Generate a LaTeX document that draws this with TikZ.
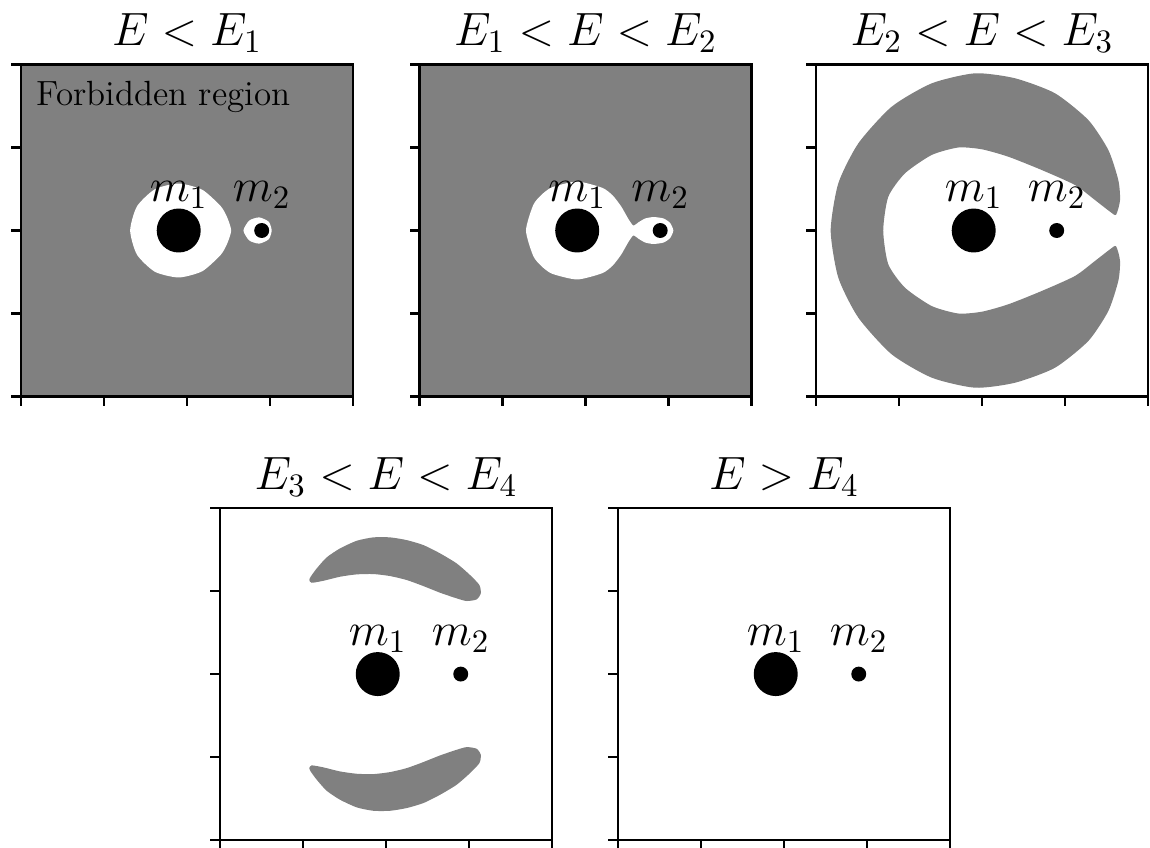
\RequirePackage{fix-cm}
\documentclass[tikz,border=0pt]{standalone}
\usepackage{amsmath}
\usepackage{tikz}
\usetikzlibrary{calc}

\begin{document}
\begin{tikzpicture}[>=stealth,
		interdit/.style={fill=gray},
		courbe/.style={smooth cycle,tension=0.4},
		cadre/.style={line width=0.75pt},
		etiquette/.style={font=\fontsize{16}{19}\selectfont,anchor=base,inner sep=0pt}]
	\useasboundingbox (0,0) rectangle (13.855,10.205);
	% E < E1
	\begin{scope}[shift={(2.253,7.428)}]
		\fill[interdit] (-2,-2) rectangle (2,2);
		\fill[white,shift={(-0.1,0)}] plot[courbe] coordinates {(0:0.632) (15:0.605) (30:0.585) (60:0.567) (90:0.566) (120:0.574) (150:0.581) (180:0.585) (210:0.581) (240:0.574) (270:0.566) (300:0.567) (330:0.585) (345:0.605)};
		\fill[white] plot[courbe] coordinates {(1.02,0) (0.985,0.105) (0.87,0.158) (0.75,0.12) (0.68,0) (0.75,-0.12) (0.87,-0.158) (0.985,-0.105)};
		\node[anchor=base west,inner sep=0pt,font=\fontsize{12}{14}\selectfont] (zone) at (-1.82,1.51) {Forbidden region};
	\end{scope}
	% E1 < E < E2
	\begin{scope}[shift={(7.054,7.428)}]
		\fill[interdit] (-2,-2) rectangle (2,2);
		\fill[white] plot[courbe] coordinates {(-0.717,0) (-0.63,0.306) (-0.53,0.43) (-0.4,0.522) (-0.1,0.59) (0.2,0.515) (0.325,0.425) (0.43,0.29) (0.516,0.14) (0.576,0.06) (0.64,0.1) (0.72,0.145) (0.82,0.162) (0.94,0.145) (1.02,0.09) (1.058,0) (1.02,-0.09) (0.94,-0.145) (0.82,-0.162) (0.72,-0.145) (0.64,-0.1) (0.576,-0.06) (0.516,-0.14) (0.43,-0.29) (0.325,-0.425) (0.2,-0.515) (-0.1,-0.59) (-0.4,-0.522) (-0.53,-0.43) (-0.63,-0.306)};
	\end{scope}
	% E2 < E < E3
	\begin{scope}[shift={(11.831,7.428)}]
		\fill[interdit] plot[courbe] coordinates {(1.542,0.227) (1.361,0.367) (1.12,0.548) (0.719,0.729) (0.317,0.889) (0,0.978) (-0.285,1.0) (-0.606,0.91) (-0.928,0.689) (-1.129,0.407) (-1.19,0) (-1.129,-0.407) (-0.928,-0.689) (-0.606,-0.91) (-0.285,-1.0) (0,-0.978) (0.317,-0.889) (0.719,-0.729) (1.12,-0.548) (1.361,-0.367) (1.542,-0.227) (1.615,-0.19) (1.663,-0.367) (1.642,-0.608) (1.522,-0.97) (1.281,-1.331) (0.88,-1.653) (0.398,-1.834) (-0.084,-1.894) (-0.606,-1.773) (-1.088,-1.492) (-1.49,-1.05) (-1.731,-0.569) (-1.823,0) (-1.731,0.569) (-1.49,1.05) (-1.088,1.492) (-0.606,1.773) (-0.084,1.894) (0.398,1.834) (0.88,1.653) (1.281,1.331) (1.522,0.97) (1.642,0.608) (1.663,0.367) (1.615,0.19)};
	\end{scope}
	% E3 < E < E4
	\begin{scope}[shift={(4.651,2.084)}]
		\foreach \s in {1,-1}
		\fill[interdit,yscale=\s] plot[courbe] coordinates {(-0.924,1.133) (-0.896,1.1) (-0.755,1.124) (-0.554,1.173) (-0.353,1.201) (-0.153,1.205) (0.048,1.181) (0.249,1.133) (0.45,1.06) (0.651,0.98) (0.851,0.912) (0.972,0.88) (1.092,0.9) (1.141,0.972) (1.125,1.072) (1.012,1.193) (0.851,1.333) (0.651,1.454) (0.45,1.554) (0.249,1.614) (0.048,1.647) (-0.153,1.647) (-0.353,1.606) (-0.554,1.514) (-0.715,1.406) (-0.835,1.273) (-0.908,1.173)};
	\end{scope}
	% cadres, masses et titres
	\foreach \cx/\cy/\txt [count=\i] in {2.253/7.428/{E<E_1},7.054/7.428/{E_1<E<E_2},11.831/7.428/{E_2<E<E_3},4.651/2.084/{E_3<E<E_4},9.446/2.084/{E>E_4}}{
		\begin{scope}[shift={(\cx,\cy)}]
			\draw[cadre] (-2,-2) rectangle (2,2);
			\foreach \t in {-2,-1,0,1,2}{
				\draw[cadre] (-2,\t) -- (-2.12,\t);
				\draw[cadre] (\t,-2) -- (\t,-2.12);}
			\fill (-0.1,0) circle (0.265);
			\fill (0.9,0) circle (0.09);
			\node[etiquette] (mu\i) at (-0.1,0.35) {$m_1$};
			\node[etiquette] (md\i) at (0.9,0.35) {$m_2$};
			\node[etiquette] (titre\i) at (0,2.225) {$\txt$};
		\end{scope}}
\end{tikzpicture}
\end{document}
